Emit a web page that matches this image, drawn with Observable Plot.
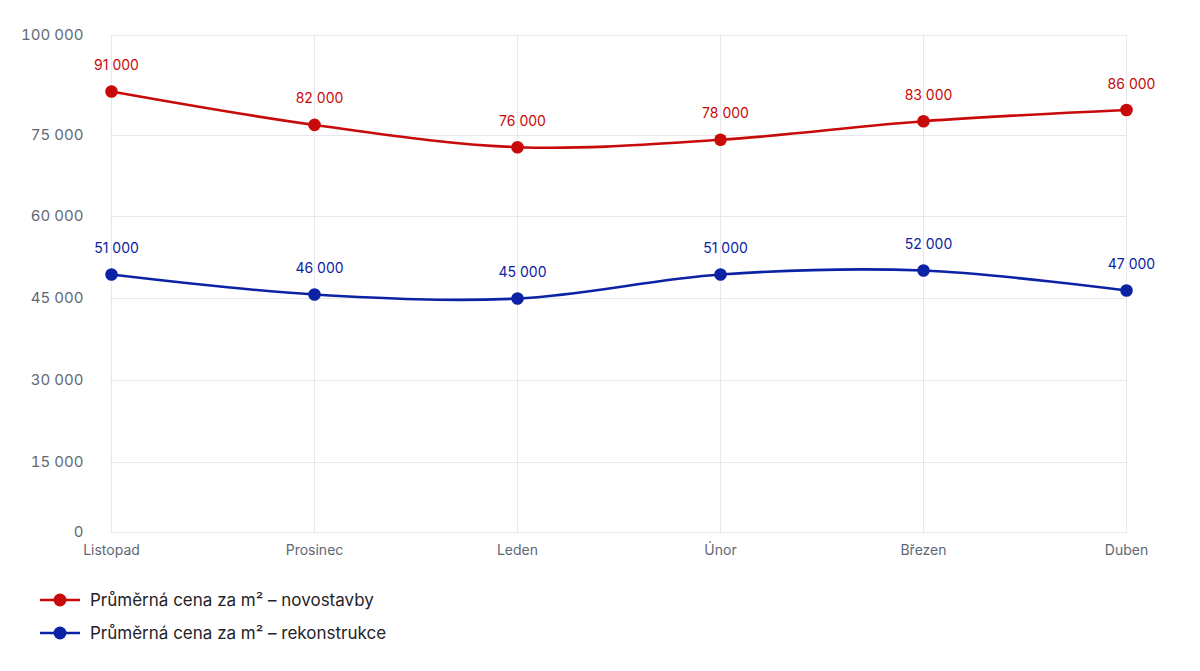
<!DOCTYPE html>
<html>
<head>
<meta charset="utf-8">
<script src="https://cdn.jsdelivr.net/npm/d3@7"></script>
<script src="https://cdn.jsdelivr.net/npm/@observablehq/plot@0.6"></script>
<style>
  html, body { margin: 0; padding: 0; background: #ffffff; }
  body { font-family: Inter, "Noto Sans", sans-serif; width: 1200px; height: 671px; overflow: hidden; }
  #chart { position: relative; width: 1200px; height: 565px; }
  #chart svg { position: absolute; left: 0; top: 0; }
  #legend { padding-left: 40px; margin-top: 18px; }
  .item { display: flex; align-items: center; height: 33px; font-size: 17px; color: #1f2329; }
  .item svg { margin-right: 10px; display: block; }
</style>
</head>
<body>
<div id="chart"></div>
<div id="legend"></div>
<script>
// ---- data ----
const months = ["Listopad", "Prosinec", "Leden", "Únor", "Březen", "Duben"];
const novostavby = [91000, 82000, 76000, 78000, 83000, 86000];
const rekonstrukce = [51000, 46000, 45000, 51000, 52000, 47000];
const seriesNames = ["Průměrná cena za m² – novostavby", "Průměrná cena za m² – rekonstrukce"];
const seriesColors = ["#c80a0a", "#0c22a4"];
const yTicks = [0, 15000, 30000, 45000, 60000, 75000, 100000];
const yTickLabels = ["0", "15 000", "30 000", "45 000", "60 000", "75 000", "100 000"];

// ---- build rows ----
const rows = [];
months.forEach((m, i) => {
  rows.push({month: m, value: novostavby[i], series: seriesNames[0]});
  rows.push({month: m, value: rekonstrukce[i], series: seriesNames[1]});
});
const fmt = v => d3.format(",")(v).replace(/,/g, " ");

const W = 1200, H = 565;
const margins = {marginLeft: 110, marginRight: 73, marginTop: 35, marginBottom: 33};
const xScale = {type: "point", domain: months, range: [110, 1127], padding: 0};

// Axis / grid layer (the reference's value axis is spaced unevenly)
const axisPlot = Plot.plot({
  width: W, height: H, ...margins,
  x: xScale,
  y: {type: "linear", domain: yTicks, range: [532, 462, 380, 298, 216, 135, 35]},
  style: {fontFamily: "Inter, sans-serif", background: "transparent", color: "#6b7280"},
  marks: [
    Plot.gridY(yTicks, {stroke: "#e6e8eb", strokeOpacity: 1, strokeWidth: 1}),
    Plot.gridX(months, {stroke: "#e6e8eb", strokeOpacity: 1, strokeWidth: 1}),
    Plot.axisY(yTicks, {tickSize: 0, tickPadding: 27, fontSize: 15, fill: "#5f6875",
      tickFormat: d => yTickLabels[yTicks.indexOf(d)], label: null}),
    Plot.axisX(months, {tickSize: 0, tickPadding: 13, fontSize: 14, fill: "#5f6875", label: null})
  ]
});

// Data layer
const dataPlot = Plot.plot({
  width: W, height: H, ...margins,
  x: {...xScale, axis: null},
  y: {type: "linear", domain: [45000, 52000, 76000, 91000], range: [298, 270, 146.7, 91], axis: null},
  color: {domain: seriesNames, range: seriesColors},
  style: {fontFamily: "Inter, sans-serif", background: "transparent"},
  marks: [
    Plot.line(rows, {x: "month", y: "value", z: "series", stroke: "series", strokeWidth: 2.6, curve: "catmull-rom"}),
    Plot.dot(rows, {x: "month", y: "value", fill: "series", r: 6.3, stroke: "none"}),
    Plot.text(rows, {x: "month", y: "value", text: d => fmt(d.value), fill: "series", dy: -26, dx: 5, fontSize: 14})
  ]
});

const chart = document.getElementById("chart");
chart.appendChild(axisPlot);
chart.appendChild(dataPlot);

// Legend
const legend = document.getElementById("legend");
seriesNames.forEach((name, i) => {
  const item = document.createElement("div");
  item.className = "item";
  item.innerHTML = `<svg width="40" height="16" viewBox="0 0 40 16">
      <line x1="0" x2="40" y1="8" y2="8" stroke="${seriesColors[i]}" stroke-width="2.5"/>
      <circle cx="20" cy="8" r="6.5" fill="${seriesColors[i]}"/></svg><span></span>`;
  item.querySelector("span").textContent = name;
  legend.appendChild(item);
});
</script>
</body>
</html>
